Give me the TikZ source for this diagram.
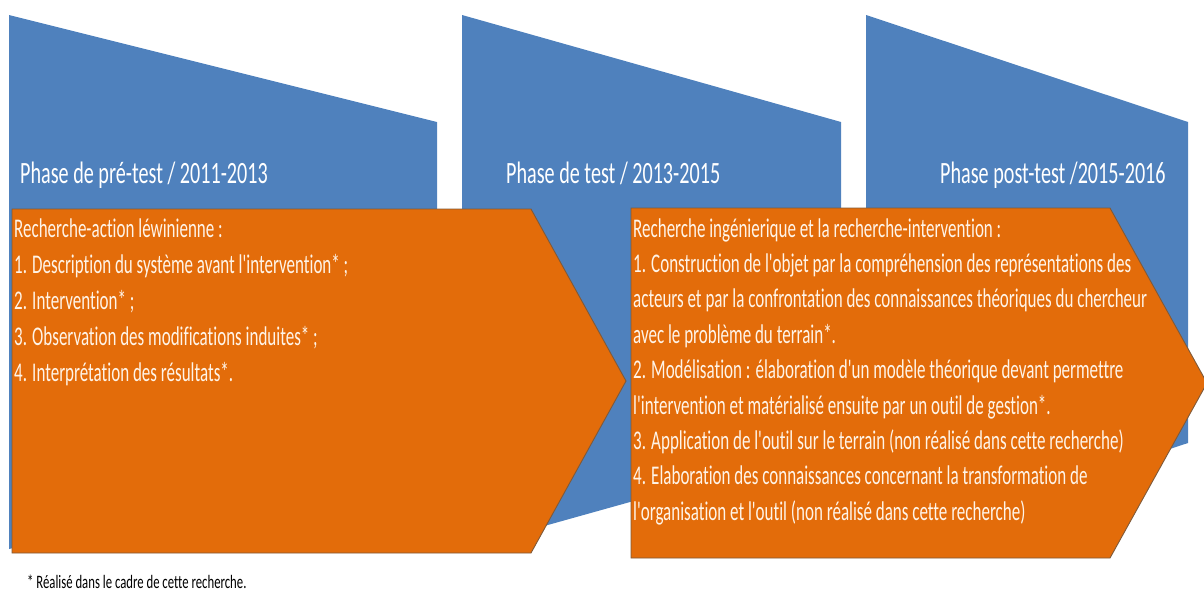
\documentclass[tikz,border=0pt]{standalone}
\usepackage{fontspec}
\setmainfont{Carlito}
\newfontfamily\titlefont{Carlito}[FakeStretch=0.65,Ligatures=NoCommon]
\newfontfamily\narrowfont{Carlito}[FakeStretch=0.63,Ligatures=NoCommon]
\newfontfamily\notefont{Carlito}[FakeStretch=0.67,Ligatures=NoCommon]
\usetikzlibrary{positioning}
\definecolor{phasefill}{HTML}{4F81BD}
\definecolor{methodfill}{HTML}{E36C0A}
\definecolor{methoddraw}{HTML}{7F5A3A}
\definecolor{methodtext}{HTML}{FFF4E8}
\tikzset{
  phase shape/.style={
    fill=phasefill
  },
  method shape/.style={
    fill=methodfill,
    draw=methoddraw,
    line width=0.9pt,
    line join=miter
  },
  phase title/.style={
    font=\titlefont\fontsize{31}{31}\selectfont,
    text=white,
    inner sep=0pt,
    anchor=base west
  },
  method line/.style={
    font=\narrowfont\fontsize{27}{36}\selectfont,
    text=methodtext,
    inner sep=0pt,
    anchor=base west
  },
  footnote text/.style={
    font=\notefont\fontsize{19}{19}\selectfont,
    text=black,
    inner sep=0pt,
    anchor=base west
  }
}
\newcommand{\phaseblock}[2]{%
  \fill[phase shape] (#1,15) -- (#2,122) -- (#2,443) -- (#1,549) -- cycle;
}

\begin{document}
\begin{tikzpicture}[x=1pt,y=-1pt]
  \useasboundingbox (0,0) rectangle (1204,592);
  \clip (0,0) rectangle (1204,592);

  \phaseblock{9}{437}
  \phaseblock{462}{841}
  \phaseblock{866}{1188}

  \node[phase title] (title-1) at (20,183) {Phase de pré-test / 2011-2013};
  \node[phase title] (title-2) at (506,183) {Phase de test / 2013-2015};
  \node[phase title] (title-3) at (940,183) {Phase post-test /2015-2016};

  \draw[method shape] (12,209) -- (531,209) -- (626,381) -- (531,553) -- (12,553) -- cycle;
  \draw[method shape] (631,208) -- (1110,208) -- (1207,383) -- (1110,558) -- (631,558) -- cycle;

  \foreach \txt [count=\k] in {
    {Recherche-action léwinienne :},
    {1. Description du système avant l'intervention* ;},
    {2. Intervention* ;},
    {3. Observation des modifications induites* ;},
    {4. Interprétation des résultats*.}}{
    \node[method line] (pre-\k) at (14,{237+36*(\k-1)}) {\txt};
  }

  \foreach \txt [count=\k] in {
    {Recherche ingénierique et la recherche-intervention :},
    {1. Construction de l'objet par la compréhension des représentations des},
    {acteurs et par la confrontation des connaissances théoriques du chercheur},
    {avec le problème du terrain*.},
    {2. Modélisation : élaboration d'un modèle théorique devant permettre},
    {l'intervention et matérialisé ensuite par un outil de gestion*.},
    {3. Application de l'outil sur le terrain (non réalisé dans cette recherche)},
    {4. Elaboration des connaissances concernant la transformation de},
    {l'organisation et l'outil (non réalisé dans cette recherche)}}{
    \node[method line] (eng-\k) at (633,{237+35.4*(\k-1)}) {\txt};
  }

  \node[footnote text] (note) at (27,588) {* Réalisé dans le cadre de cette recherche.};
\end{tikzpicture}
\end{document}
